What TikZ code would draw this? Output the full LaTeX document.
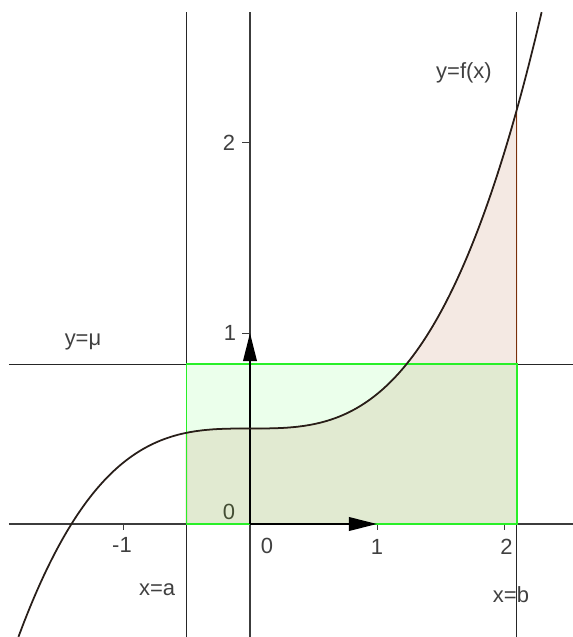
\documentclass[tikz,border=0pt]{standalone}
\usepackage{fontspec}
\setmainfont{Liberation Sans}
\usetikzlibrary{arrows.meta}
\definecolor{curvecol}{RGB}{40,30,25}
\definecolor{axisgray}{RGB}{60,60,60}
\definecolor{rectgreen}{RGB}{40,240,40}
\definecolor{areabrown}{RGB}{153,51,0}

\begin{document}
\begin{tikzpicture}[x=2.54cm, y=3.82cm,
  axis/.style={axisgray, line width=0.8pt},
  guide/.style={black!85, line width=0.9pt},
  vec/.style={-{Triangle[length=0.56cm,width=0.27cm]}, line width=1.1pt},
  tick/.style={axisgray, line width=0.5pt},
  lbl/.style={font=\fontsize{12.5}{14}\selectfont, text=black!75, inner sep=0pt},
]
  \pgfmathsetmacro{\mval}{0.5+0.18*(2.1^4-0.5^4)/(4*2.6)}
  \useasboundingbox (-1.9685,-0.5916) rectangle (2.5433,2.7435);

  % Axes
  \coordinate (O) at (0,0);
  \coordinate (ex) at (1,0);
  \coordinate (ey) at (0,1);
  \draw[axis] (-1.898,0) -- (2.5433,0);
  \draw[axis] (0,-0.5916) -- (0,2.68);
  \foreach \t in {-1,1,2}
    \draw[tick] (\t,0) -- (\t,-0.03);
  \foreach \t in {1,2}
    \draw[tick] (0,\t) -- (-0.06,\t);

  % Tick labels
  \node[lbl] (xm1) at (-1.008,-0.11) {-1};
  \node[lbl] (x0) at (0.134,-0.115) {0};
  \node[lbl] (x1) at (1.0,-0.12) {1};
  \node[lbl] (x2) at (2.02,-0.12) {2};
  \node[lbl] (y0) at (-0.165,0.063) {0};
  \node[lbl] (y1) at (-0.157,1.0) {1};
  \node[lbl] (y2) at (-0.165,1.995) {2};

  % Lines x=a, x=b, y=mu
  \draw[guide] (-0.5,-0.5916) -- (-0.5,2.68);
  \draw[guide] (2.1,-0.5916) -- (2.1,2.68);
  \draw[guide] (-1.898,\mval) -- (2.5433,\mval);

  % Area under the curve
  \filldraw[areabrown, fill opacity=0.11, draw opacity=0.7, line width=0.6pt]
    (-0.5,0) -- plot[domain=-0.5:2.1, samples=60] (\x,{0.5+0.18*\x^3}) -- (2.1,0) -- cycle;

  % Mean value rectangle
  \draw[rectgreen, line width=1.1pt, fill=green, fill opacity=0.08] (-0.5,0) rectangle (2.1,\mval);

  % Unit vectors
  \draw[vec] (O) -- (ex);
  \draw[vec] (O) -- (ey);

  % Curve
  \draw[curvecol, line width=1pt] plot[domain=-1.823:2.297, samples=100, smooth] (\x,{0.5+0.18*\x^3});

  % Labels
  \node[lbl] (fx) at (1.685,2.361) {y=f(x)};
  \node[lbl] (mu) at (-1.315,0.953) {y=μ};
  \node[lbl] (xa) at (-0.732,-0.346) {x=a};
  \node[lbl] (xb) at (2.055,-0.372) {x=b};

\end{tikzpicture}
\end{document}
